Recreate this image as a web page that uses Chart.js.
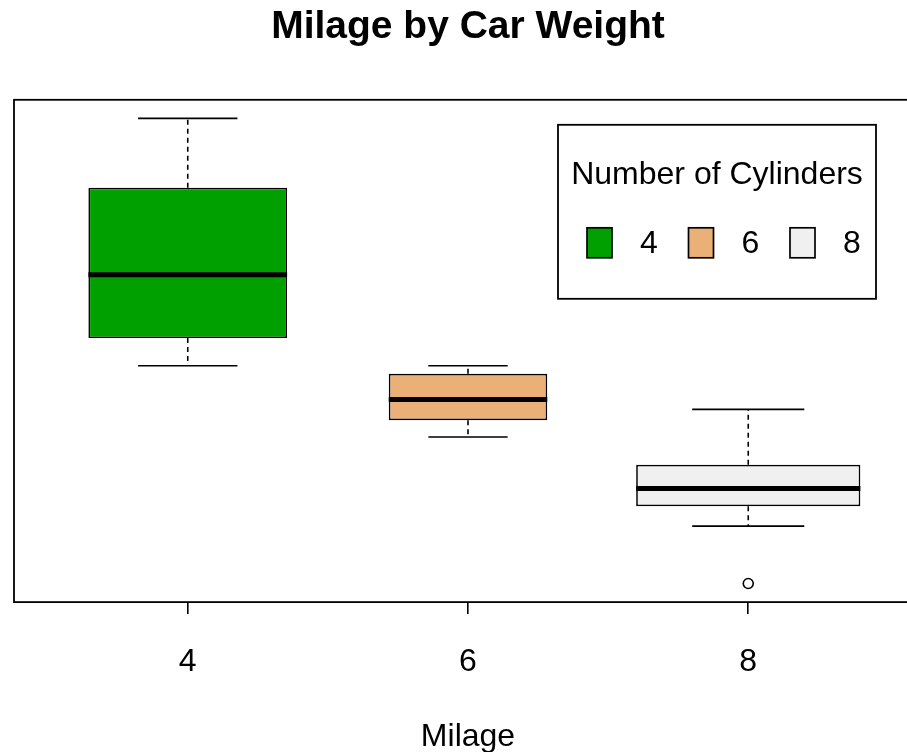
<!DOCTYPE html>
<html>
<head>
<meta charset="utf-8">
<title>Milage by Car Weight</title>
<script src="https://cdn.jsdelivr.net/npm/chart.js@4.4.1/dist/chart.umd.min.js"></script>
<style>
  html, body { margin: 0; padding: 0; background: #fff; overflow: hidden; }
</style>
</head>
<body>
<canvas id="boxChart" width="930" height="752"></canvas>
<script>
// mtcars mpg grouped by cylinders (five-number summaries as drawn)
const cylLabels = ['4', '6', '8'];
const groupPos = [1, 2, 3];
const groupCounts = [11, 7, 14];
const whiskerLow = [21.4, 17.8, 13.3];
const boxLow = [22.8, 18.65, 14.3];
const medians = [26.0, 19.7, 15.2];
const boxHigh = [30.4, 21.0, 16.4];
const whiskerHigh = [33.9, 21.4, 19.2];
const outlierGroup = [3];
const outlierValues = [10.4];
const boxColors = ['#00A000', '#EAB078', '#F0F0F0'];

Chart.defaults.font.family = "'Liberation Sans', Arial, sans-serif";
Chart.defaults.color = '#000';

// box widths like varwidth = TRUE
const maxN = Math.max(...groupCounts);
const boxWidths = groupCounts.map(n => 0.8 * Math.sqrt(n / maxN));

// y range with the usual 4% padding
const allVals = whiskerLow.concat(whiskerHigh, outlierValues);
const yLo = Math.min(...allVals), yHi = Math.max(...allVals);
const yPad = (yHi - yLo) * 0.04;

const medianPts = [];
const whiskerPts = [];
const capPts = [];
groupPos.forEach(function (x, i) {
    const h = boxWidths[i] / 2;
    const c = boxWidths[i] / 4;
    medianPts.push({x: x - h, y: medians[i]}, {x: x + h, y: medians[i]}, {x: x, y: null});
    whiskerPts.push({x: x, y: boxHigh[i]}, {x: x, y: whiskerHigh[i]}, {x: x, y: null},
                    {x: x, y: boxLow[i]}, {x: x, y: whiskerLow[i]}, {x: x, y: null});
    capPts.push({x: x - c, y: whiskerHigh[i]}, {x: x + c, y: whiskerHigh[i]}, {x: x, y: null},
                {x: x - c, y: whiskerLow[i]}, {x: x + c, y: whiskerLow[i]}, {x: x, y: null});
});

const boxSets = groupPos.map(function (x, i) {
    return {
        type: 'bar',
        label: cylLabels[i],
        data: [{x: x, y: [boxLow[i], boxHigh[i]]}],
        backgroundColor: boxColors[i],
        borderColor: '#000',
        borderWidth: 1.7,
        borderSkipped: false,
        grouped: false,
        categoryPercentage: 1,
        barPercentage: boxWidths[i],
        order: 5
    };
});

const lineBase = {
    type: 'line',
    borderColor: '#000',
    pointRadius: 0,
    spanGaps: false,
    tension: 0,
    fill: false
};

const frame = {
    id: 'frame',
    afterDraw(chart) {
        const a = chart.chartArea, ctx = chart.ctx;
        ctx.save();
        ctx.strokeStyle = '#000';
        ctx.lineWidth = 1.8;
        ctx.strokeRect(a.left, a.top, a.right - a.left, a.bottom - a.top);
        ctx.restore();
    }
};

// R-style legend box, top right inside the plot
const boxLegend = {
    id: 'boxLegend',
    afterDraw(chart) {
        const a = chart.chartArea, ctx = chart.ctx;
        const right = a.right - 46, top = a.top + 25;
        const w = 318, h = 174, left = right - w;
        ctx.save();
        ctx.fillStyle = '#fff';
        ctx.fillRect(left, top, w, h);
        ctx.strokeStyle = '#000';
        ctx.lineWidth = 1.8;
        ctx.strokeRect(left, top, w, h);
        ctx.fillStyle = '#000';
        ctx.font = "32px 'Liberation Sans', Arial, sans-serif";
        ctx.textAlign = 'center';
        ctx.textBaseline = 'middle';
        ctx.fillText('Number of Cylinders', left + w / 2, top + 50);
        const rowY = top + 118;
        cylLabels.forEach(function (lab, i) {
            const sx = left + 29 + i * 101.5;
            ctx.fillStyle = boxColors[i];
            ctx.fillRect(sx, rowY - 15, 25, 30);
            ctx.strokeStyle = '#000';
            ctx.lineWidth = 1.7;
            ctx.strokeRect(sx, rowY - 15, 25, 30);
            ctx.fillStyle = '#000';
            ctx.fillText(lab, sx + 62, rowY + 1);
        });
        ctx.restore();
    }
};

new Chart(document.getElementById('boxChart'), {
    type: 'bar',
    data: {
        datasets: [
            Object.assign({}, lineBase, {label: 'median', data: medianPts, borderWidth: 5, borderCapStyle: 'butt', order: 0}),
            Object.assign({}, lineBase, {label: 'whisker', data: whiskerPts, borderWidth: 1.6, borderDash: [5, 4], order: 1}),
            Object.assign({}, lineBase, {label: 'staple', data: capPts, borderWidth: 1.6, order: 1}),
            {
                type: 'scatter',
                label: 'outlier',
                data: outlierValues.map((v, i) => ({x: outlierGroup[i], y: v})),
                pointStyle: 'circle',
                pointRadius: 5,
                pointBackgroundColor: '#fff',
                pointBorderColor: '#000',
                pointBorderWidth: 1.6,
                order: 1
            }
        ].concat(boxSets)
    },
    options: {
        responsive: false,
        animation: false,
        events: [],
        layout: {
            padding: {left: 14, right: 8, top: 0, bottom: 0}
        },
        scales: {
            x: {
                type: 'linear',
                min: 0.38,
                max: 3.62,
                offset: false,
                afterBuildTicks: function (scale) {
                    scale.ticks = groupPos.map(v => ({value: v}));
                },
                ticks: {
                    callback: function (value) {
                        return cylLabels[groupPos.indexOf(value)];
                    },
                    font: {size: 32},
                    color: '#000',
                    padding: 29,
                    maxRotation: 0,
                    autoSkip: false
                },
                grid: {
                    offset: false,
                    drawOnChartArea: false,
                    drawTicks: true,
                    tickLength: 12,
                    color: '#000',
                    lineWidth: 1.6
                },
                border: {display: false},
                title: {
                    display: true,
                    text: 'Milage',
                    font: {size: 32, lineHeight: 1},
                    color: '#000',
                    padding: {top: 11, bottom: -1.5}
                }
            },
            y: {
                type: 'linear',
                min: yLo - yPad,
                max: yHi + yPad,
                display: false
            }
        },
        plugins: {
            legend: {display: false},
            tooltip: {enabled: false},
            title: {
                display: true,
                fullSize: false,
                text: 'Milage by Car Weight',
                font: {size: 39, weight: 'bold'},
                color: '#000',
                padding: {top: 4, bottom: 49}
            }
        }
    },
    plugins: [frame, boxLegend]
});
</script>
</body>
</html>
